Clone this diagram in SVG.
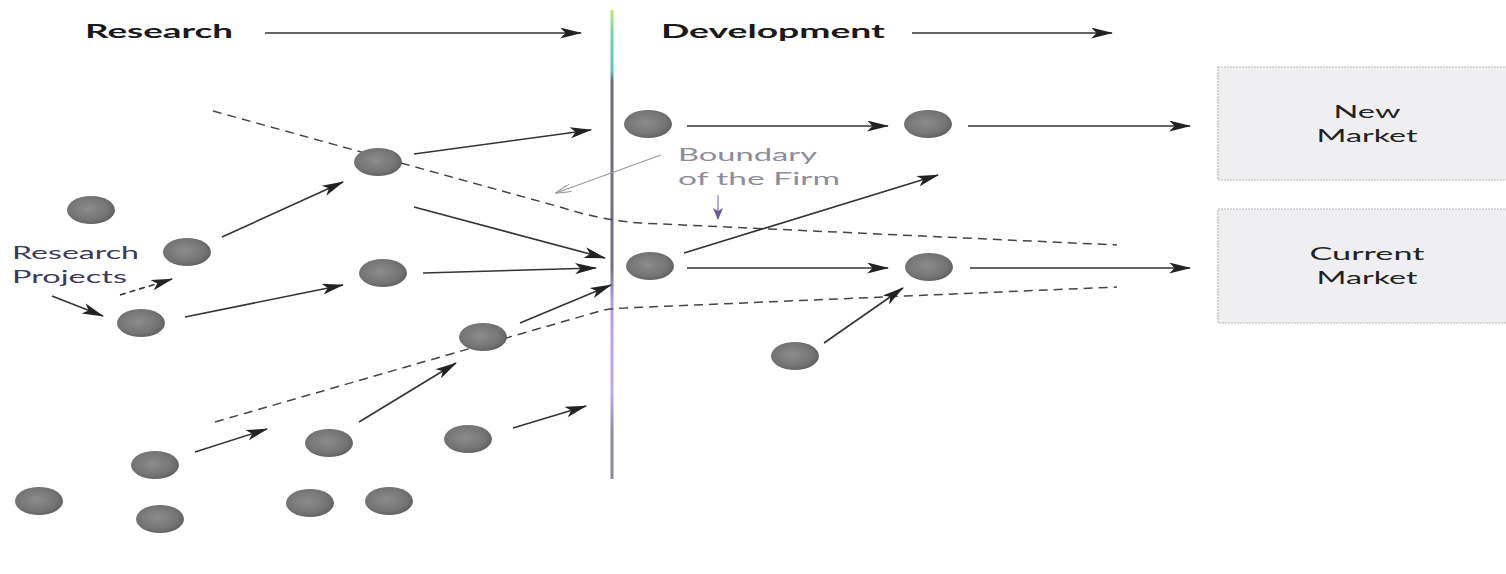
<svg xmlns="http://www.w3.org/2000/svg" width="1506" height="574" viewBox="0 0 1506 574">
  <defs>
    <radialGradient id="ball" cx="0.45" cy="0.45" r="0.6">
      <stop offset="0" stop-color="#8c8c8c"/>
      <stop offset="0.7" stop-color="#747474"/>
      <stop offset="1" stop-color="#5c5c5c"/>
    </radialGradient>
    <linearGradient id="vline" gradientUnits="userSpaceOnUse" x1="0" y1="10" x2="0" y2="479">
      <stop offset="0" stop-color="#c4e36a"/>
      <stop offset="0.05" stop-color="#6fd6a8"/>
      <stop offset="0.13" stop-color="#58c8c0"/>
      <stop offset="0.15" stop-color="#6a6a80"/>
      <stop offset="0.55" stop-color="#707088"/>
      <stop offset="0.62" stop-color="#b898ee"/>
      <stop offset="0.82" stop-color="#c2a8ee"/>
      <stop offset="0.9" stop-color="#8a8aa0"/>
      <stop offset="1" stop-color="#8a8a9a"/>
    </linearGradient>
    <marker id="ah" viewBox="0 0 20 10" refX="19" refY="5" markerWidth="24" markerHeight="11" markerUnits="userSpaceOnUse" orient="auto">
      <path d="M0,0 L20,5 L0,10 L5,5 z" fill="#222"/>
    </marker>
    <marker id="ahg" viewBox="0 0 20 10" refX="19" refY="5" markerWidth="16" markerHeight="8" markerUnits="userSpaceOnUse" orient="auto">
      <path d="M0,0 L20,5 L0,10" fill="none" stroke="#999" stroke-width="1.5"/>
    </marker>
    <marker id="ahp" viewBox="0 0 12 10" refX="11" refY="5" markerWidth="12" markerHeight="10" markerUnits="userSpaceOnUse" orient="auto">
      <path d="M0,0 L12,5 L0,10 L3,5 z" fill="#6a5a9a"/>
    </marker>
  </defs>
  <style>
    .node ellipse { fill: url(#ball); }
    .arrow { stroke: #333; stroke-width: 1.6; fill: none; marker-end: url(#ah); }
    .dash { stroke: #444; stroke-width: 1.5; fill: none; stroke-dasharray: 9 6; }
    .head { font-family: Lato, "Open Sans", "Liberation Sans", sans-serif; font-weight: bold; font-size: 19px; fill: #1a1a1a; }
    .lbl { font-family: Lato, "Open Sans", "Liberation Sans", sans-serif; font-size: 18px; }
    .box rect { fill: #efeff2; stroke: #b8b8b8; stroke-width: 1.2; stroke-dasharray: 2 1; }
  </style>

  <rect width="1506" height="574" fill="#ffffff"/>

  <!-- firm boundary vertical line -->
  <rect x="610.5" y="10" width="3" height="469" fill="url(#vline)"/>

  <g id="connectors">
    <!-- headings arrows -->
    <line class="arrow" x1="265" y1="33" x2="581" y2="33"/>
    <line class="arrow" x1="912" y1="33" x2="1112" y2="33"/>
    <!-- boundary dashed lines -->
    <path class="dash" d="M213,111 L560,207 Q600,220 640,223 L1117,245"/>
    <path class="dash" d="M215,422 L600,311 Q612,308 625,308 L1117,287"/>
    <!-- research side -->
    <line class="arrow" x1="414" y1="154" x2="591" y2="130"/>
    <line class="arrow" x1="222" y1="237" x2="343" y2="182"/>
    <line class="arrow" x1="414" y1="207" x2="605" y2="258"/>
    <line class="arrow" x1="423" y1="273" x2="596" y2="268"/>
    <line class="arrow" x1="120" y1="295" x2="172" y2="279" stroke-dasharray="6 4"/>
    <line class="arrow" x1="52" y1="296" x2="103" y2="316"/>
    <line class="arrow" x1="185" y1="317" x2="343" y2="285"/>
    <line class="arrow" x1="520" y1="323" x2="611" y2="285"/>
    <line class="arrow" x1="359" y1="422" x2="456" y2="363"/>
    <line class="arrow" x1="195" y1="452" x2="267" y2="429"/>
    <line class="arrow" x1="513" y1="428" x2="586" y2="406"/>
    <!-- development side -->
    <line class="arrow" x1="687" y1="126" x2="888" y2="126"/>
    <line class="arrow" x1="968" y1="126" x2="1190" y2="126"/>
    <line class="arrow" x1="684" y1="253" x2="938" y2="175"/>
    <line class="arrow" x1="687" y1="268" x2="888" y2="268"/>
    <line class="arrow" x1="970" y1="268" x2="1190" y2="268"/>
    <line class="arrow" x1="824" y1="343" x2="903" y2="288"/>
    <!-- boundary label pointers -->
    <line x1="661" y1="155" x2="556" y2="193" stroke="#999" stroke-width="1.2" marker-end="url(#ahg)"/>
    <line x1="718" y1="195" x2="718" y2="219" stroke="#8a7ab0" stroke-width="1.2" marker-end="url(#ahp)"/>
  </g>

  <!-- headings -->
  <g id="label-research"><text class="head" x="85" y="38" textLength="148" lengthAdjust="spacingAndGlyphs">Research</text></g>
  <g id="label-development"><text class="head" x="661" y="38" textLength="224" lengthAdjust="spacingAndGlyphs">Development</text></g>

  <!-- side labels -->
  <g id="label-research-projects" fill="#3c3a5c">
    <text class="lbl" x="12" y="259" textLength="127" lengthAdjust="spacingAndGlyphs">Research</text>
    <text class="lbl" x="12" y="283" textLength="115" lengthAdjust="spacingAndGlyphs">Projects</text>
  </g>
  <g id="label-boundary" fill="#8e8c9c">
    <text class="lbl" x="678" y="161" textLength="139" lengthAdjust="spacingAndGlyphs">Boundary</text>
    <text class="lbl" x="678" y="185" textLength="162" lengthAdjust="spacingAndGlyphs">of the Firm</text>
  </g>

  <!-- market boxes -->
  <g id="box-new-market" class="box">
    <rect x="1218" y="67" width="300" height="113"/>
    <text class="lbl" x="1367" y="118" text-anchor="middle" fill="#222" textLength="67" lengthAdjust="spacingAndGlyphs">New</text>
    <text class="lbl" x="1367" y="142" text-anchor="middle" fill="#222" textLength="101" lengthAdjust="spacingAndGlyphs">Market</text>
  </g>
  <g id="box-current-market" class="box">
    <rect x="1218" y="209" width="300" height="114"/>
    <text class="lbl" x="1367" y="260" text-anchor="middle" fill="#222" textLength="115" lengthAdjust="spacingAndGlyphs">Current</text>
    <text class="lbl" x="1367" y="284" text-anchor="middle" fill="#222" textLength="101" lengthAdjust="spacingAndGlyphs">Market</text>
  </g>

  <!-- project nodes -->
  <g id="n1" class="node"><ellipse cx="91" cy="210" rx="24" ry="14"/></g>
  <g id="n2" class="node"><ellipse cx="187" cy="252" rx="24" ry="14"/></g>
  <g id="n3" class="node"><ellipse cx="141" cy="323" rx="24" ry="14"/></g>
  <g id="n4" class="node"><ellipse cx="378" cy="162" rx="24" ry="14"/></g>
  <g id="n5" class="node"><ellipse cx="383" cy="273" rx="24" ry="14"/></g>
  <g id="n6" class="node"><ellipse cx="483" cy="337" rx="24" ry="14"/></g>
  <g id="n7" class="node"><ellipse cx="155" cy="465" rx="24" ry="14"/></g>
  <g id="n8" class="node"><ellipse cx="329" cy="443" rx="24" ry="14"/></g>
  <g id="n9" class="node"><ellipse cx="468" cy="439" rx="24" ry="14"/></g>
  <g id="n10" class="node"><ellipse cx="39" cy="501" rx="24" ry="14"/></g>
  <g id="n11" class="node"><ellipse cx="160" cy="519" rx="24" ry="14"/></g>
  <g id="n12" class="node"><ellipse cx="310" cy="503" rx="24" ry="14"/></g>
  <g id="n13" class="node"><ellipse cx="389" cy="501" rx="24" ry="14"/></g>
  <g id="n14" class="node"><ellipse cx="648" cy="124" rx="24" ry="14"/></g>
  <g id="n15" class="node"><ellipse cx="928" cy="124" rx="24" ry="14"/></g>
  <g id="n16" class="node"><ellipse cx="650" cy="266" rx="24" ry="14"/></g>
  <g id="n17" class="node"><ellipse cx="929" cy="267" rx="24" ry="14"/></g>
  <g id="n18" class="node"><ellipse cx="795" cy="356" rx="24" ry="14"/></g>
</svg>
